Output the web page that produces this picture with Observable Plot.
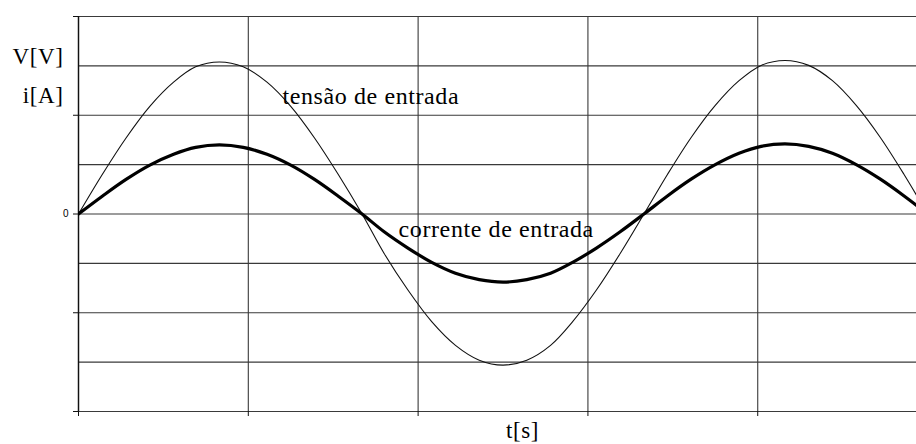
<!DOCTYPE html>
<html>
<head>
<meta charset="utf-8">
<script src="https://cdn.jsdelivr.net/npm/d3@7"></script>
<script src="https://cdn.jsdelivr.net/npm/@observablehq/plot@0.6"></script>
<style>
  html, body { margin: 0; padding: 0; background: #fff; overflow: hidden; }
  #chart svg g[aria-label="text"] text { letter-spacing: 0.6px; }
</style>
</head>
<body>
<div id="chart"></div>
<script>
// time in grid divisions (no tick labels on the reference)
const t = [0,0.14,0.28,0.42,0.56,0.69,0.83,0.97,1.11,1.25,1.39,1.53,1.67,1.80,1.94,2.08,2.22,2.36,2.50,2.64,2.78,2.91,3.05,3.19,3.33,3.47,3.61,3.75,3.89,4.02,4.16,4.30,4.44,4.58,4.72,4.86,5.00];
// tensão de entrada (grid units)
const tensao = [0,0.80,1.54,2.18,2.67,2.98,3.08,2.98,2.67,2.18,1.54,0.80,0,-0.80,-1.54,-2.18,-2.66,-2.96,-3.06,-2.96,-2.66,-2.18,-1.54,-0.80,0,0.81,1.56,2.20,2.70,3.01,3.11,3.01,2.70,2.20,1.56,0.81,0];
// corrente de entrada (grid units)
const corrente = [0,0.36,0.70,0.99,1.21,1.35,1.40,1.35,1.21,0.99,0.70,0.36,0,-0.36,-0.69,-0.98,-1.20,-1.33,-1.38,-1.33,-1.20,-0.98,-0.69,-0.36,0,0.37,0.71,1.00,1.23,1.37,1.42,1.37,1.23,1.00,0.71,0.37,0];

const xGrid = [0,1,2,3,4];
const yGrid = [-4,-3,-2,-1,0,1,2,3,4];
const yTicks = [-4,-2,0,2,4];

const dataV = t.map((d,i) => ({t: d, v: tensao[i]}));
const dataI = t.map((d,i) => ({t: d, v: corrente[i]}));

const serif = "Liberation Serif";

const axisLabels = [
  {t: -0.088, v: 3.18, text: "V[V]"},
  {t: -0.088, v: 2.39, text: "i[A]"},
];
const curveLabels = [
  {t: 1.201, v: 2.39, text: "tensão de entrada"},
  {t: 1.885, v: -0.32, text: "corrente de entrada"},
];
const xLabel = [{t: 2.615, v: -4.395, text: "t[s]"}];

const chart = Plot.plot({
  width: 916,
  height: 444,
  marginLeft: 78,
  marginRight: 0,
  marginTop: 16,
  marginBottom: 33,
  x: {domain: [0, 4.935], axis: null},
  y: {domain: [-4, 4], axis: null},
  style: {background: "#fff", overflow: "visible"},
  marks: [
    Plot.ruleY(yGrid, {y: d => d, stroke: "#3a3a3a", strokeWidth: 1.2}),
    Plot.ruleX(xGrid, {x: d => d, stroke: "#3a3a3a", strokeWidth: 1.1}),
    Plot.ruleX([0], {x: d => d, stroke: "#111", strokeWidth: 1.4}),
    Plot.axisY(yTicks, {ticks: yTicks, tickSize: 5, stroke: "#111", tickFormat: d => d === 0 ? "0" : "", fontSize: 10, fontFamily: "Liberation Sans", tickPadding: 5, label: null}),
    Plot.axisX(xGrid, {ticks: xGrid, tickSize: 5, stroke: "#111", tickFormat: () => "", label: null}),
    Plot.line(dataV, {x: "t", y: "v", stroke: "#111", strokeWidth: 1.1, curve: "catmull-rom", clip: true}),
    Plot.line(dataI, {x: "t", y: "v", stroke: "#000", strokeWidth: 3.2, curve: "catmull-rom", clip: true}),
    Plot.text(curveLabels, {x: "t", y: "v", text: "text", textAnchor: "start", fontSize: 24, fontFamily: serif, fill: "#000"}),
    Plot.text(axisLabels, {x: "t", y: "v", text: "text", textAnchor: "end", fontSize: 23, fontFamily: serif, fill: "#000"}),
    Plot.text(xLabel, {x: "t", y: "v", text: "text", fontSize: 23, fontFamily: serif, fill: "#000"})
  ]
});
document.getElementById("chart").appendChild(chart);
</script>
</body>
</html>
